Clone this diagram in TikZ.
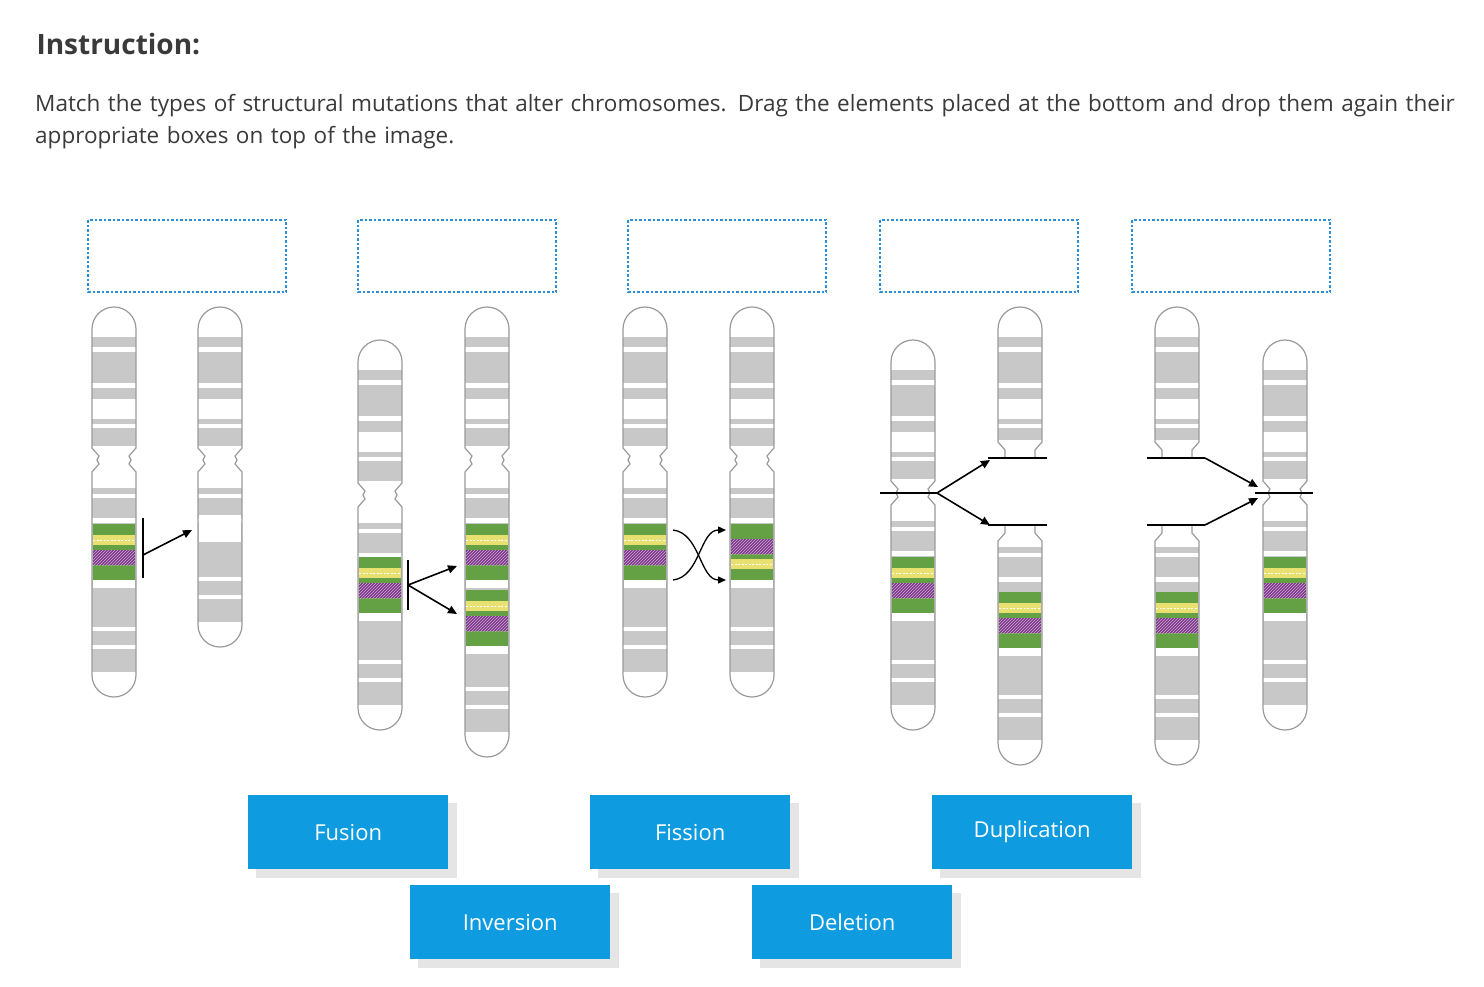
\documentclass[tikz,border=0pt]{standalone}
\usepackage{fontspec}
\setmainfont{Open Sans}
\usetikzlibrary{patterns,arrows.meta}
\definecolor{cgray}{HTML}{C8C8C8}
\definecolor{cline}{HTML}{9A9A9A}
\definecolor{cgreen}{HTML}{64A044}
\definecolor{cyel}{HTML}{E8E070}
\definecolor{cpur}{HTML}{7A3A8C}
\definecolor{cbox}{HTML}{2D8FD5}
\definecolor{cbtn}{HTML}{0E9BE0}
\definecolor{ctext}{HTML}{3A3A3A}
\tikzset{
 dropbox/.style={draw=cbox,dash pattern=on 2.5pt off 2pt,line width=1.3pt},
 btn/.style={fill=cbtn,text=white,minimum width=200pt,minimum height=74pt,inner sep=0pt,font=\fontsize{22}{26}\selectfont},
 btnshadow/.style={fill=black!10},
 arr/.style={line width=1.6pt,-{Triangle[length=9pt,width=8pt]}},
 bar/.style={line width=1.6pt},
}
% full chromosome outline
\newcommand\chrpath[4]{({#1-22},{#2+22}) arc(180:360:22) -- ({#1+22},{#3-12}) -- ({#1+15},{#3-4}) -- ({#1+17},{#3}) -- ({#1+15},{#3+4}) -- ({#1+22},{#3+12}) -- ({#1+22},{#4-22}) arc(0:180:22) -- ({#1-22},{#3+12}) -- ({#1-15},{#3+4}) -- ({#1-17},{#3}) -- ({#1-15},{#3-4}) -- ({#1-22},{#3-12}) -- cycle}
\newcommand\bands[4]{%
 \fill[cgray] ({#1-22},{#2+30}) rectangle ({#1+22},{#3-14});
 \fill[white] ({#1-22},{#2+40}) rectangle ({#1+22},{#2+45});
 \fill[white] ({#1-22},{#2+76}) rectangle ({#1+22},{#2+81});
 \fill[white] ({#1-22},{#2+92}) rectangle ({#1+22},{#2+112});
 \fill[white] ({#1-22},{#2+117}) rectangle ({#1+22},{#2+121});
 \fill[cgray] ({#1-22},{#3+28}) rectangle ({#1+22},{#4-25});
 \fill[white] ({#1-22},{#3+34}) rectangle ({#1+22},{#3+38});
 \fill[white] ({#1-22},{#3+58}) rectangle ({#1+22},{#3+63});
 \fill[white] ({#1-22},{#4-70}) rectangle ({#1+22},{#4-66});
 \fill[white] ({#1-22},{#4-52}) rectangle ({#1+22},{#4-48});}
\newcommand\chrom[4]{%
 \begin{scope}\clip \chrpath{#1}{#2}{#3}{#4};
 \fill[white] ({#1-30},{#2}) rectangle ({#1+30},{#4});
 \bands{#1}{#2}{#3}{#4}\end{scope}
 \draw[cline,line width=1.2pt] \chrpath{#1}{#2}{#3}{#4};}
% top piece: cx, top, cut
\newcommand\tpath[3]{({#1-22},{#2+22}) arc(180:360:22) -- ({#1+22},{#3-16}) -- ({#1+15},{#3-8}) -- ({#1+15},{#3}) -- ({#1-15},{#3}) -- ({#1-15},{#3-8}) -- ({#1-22},{#3-16}) -- cycle}
\newcommand\ctop[3]{%
 \begin{scope}\clip \tpath{#1}{#2}{#3};
 \fill[cgray] ({#1-22},{#2+30}) rectangle ({#1+22},{#3-18});
 \fill[white] ({#1-22},{#2+40}) rectangle ({#1+22},{#2+45});
 \fill[white] ({#1-22},{#2+76}) rectangle ({#1+22},{#2+81});
 \fill[white] ({#1-22},{#2+92}) rectangle ({#1+22},{#2+112});
 \fill[white] ({#1-22},{#2+117}) rectangle ({#1+22},{#2+121});
 \end{scope}
 \draw[cline,line width=1.2pt] ({#1-15},{#3}) -- ({#1-15},{#3-8}) -- ({#1-22},{#3-16}) -- ({#1-22},{#2+22}) arc(180:360:22) -- ({#1+22},{#3-16}) -- ({#1+15},{#3-8}) -- ({#1+15},{#3});}
\newcommand\bpath[3]{({#1-15},{#2}) -- ({#1+15},{#2}) -- ({#1+15},{#2+8}) -- ({#1+22},{#2+16}) -- ({#1+22},{#3-22}) arc(0:180:22) -- ({#1-22},{#2+16}) -- ({#1-15},{#2+8}) -- cycle}
\newcommand\cbot[3]{%
 \begin{scope}\clip \bpath{#1}{#2}{#3};
 \fill[cgray] ({#1-22},{#2+22}) rectangle ({#1+22},{#3-25});
 \fill[white] ({#1-22},{#2+28}) rectangle ({#1+22},{#2+32});
 \fill[white] ({#1-22},{#2+52}) rectangle ({#1+22},{#2+57});
 \fill[white] ({#1-22},{#3-70}) rectangle ({#1+22},{#3-66});
 \fill[white] ({#1-22},{#3-52}) rectangle ({#1+22},{#3-48});
 \end{scope}
 \draw[cline,line width=1.2pt] ({#1-15},{#2}) -- ({#1-15},{#2+8}) -- ({#1-22},{#2+16}) -- ({#1-22},{#3-22}) arc(180:0:22) -- ({#1+22},{#2+16}) -- ({#1+15},{#2+8}) -- ({#1+15},{#2});}
% coloured block (normal order) cx, y
\newcommand\yel[3]{\fill[cyel] ({#1-21},{#2}) rectangle ({#1+21},{#3});
 \draw[white,line width=0.6pt,dash pattern=on 2pt off 1.5pt] ({#1-21},{(#2+#3)/2}) -- ({#1+21},{(#2+#3)/2});}
\newcommand\pur[3]{\fill[cpur] ({#1-21},{#2}) rectangle ({#1+21},{#3});
 \fill[pattern=north east lines,pattern color=violet!35] ({#1-21},{#2}) rectangle ({#1+21},{#3});}
\newcommand\blk[2]{\fill[cgreen] ({#1-21},{#2}) rectangle ({#1+21},{#2+56});
 \fill[white] ({#1-21},{#2+56}) rectangle ({#1+21},{#2+64});
 \yel{#1}{#2+11}{#2+21}\pur{#1}{#2+26}{#2+41}}
\newcommand\blkinv[2]{\fill[cgreen] ({#1-21},{#2}) rectangle ({#1+21},{#2+56});
 \fill[white] ({#1-21},{#2+56}) rectangle ({#1+21},{#2+64});
 \pur{#1}{#2+15}{#2+30}\yel{#1}{#2+35}{#2+45}}
\begin{document}
\begin{tikzpicture}[x=1pt,y=-1pt]
\useasboundingbox[fill=white] (0,0) rectangle (1484,986);
\node[anchor=west,font=\fontsize{28}{32}\selectfont\bfseries,text=ctext] (title) at (33,44) {Instruction:};
\node[anchor=north west,text width=1420pt,align=left,font=\fontsize{22.5}{32}\selectfont,text=ctext,inner sep=0pt] (body) at (35,94) {Match the types of structural mutations that alter chromosomes. Drag the elements placed at the bottom and drop them again their appropriate boxes on top of the image.};
\foreach \x/\n in {88/d1,358/d2,628/d3,880/d4,1132/d5}
 \draw[dropbox] (\x,220) rectangle (\x+198,292);
% pair 1: deletion
\chrom{114}{307}{460}{697}\blk{114}{524}
\chrom{220}{307}{460}{647}
\fill[white] (199,515) rectangle (241,542);
\draw[bar] (143,518) -- (143,578);
\draw[arr] (143,555) -- (192,530);
% pair 2: duplication
\chrom{380}{340}{495}{730}\blk{380}{557}
\chrom{487}{307}{460}{757}\blk{487}{524}\blk{487}{590}
\draw[bar] (408,560) -- (408,610);
\draw[arr] (408,585) -- (457,566);
\draw[arr] (408,585) -- (457,614);
% pair 3: inversion
\chrom{645}{307}{460}{697}\blk{645}{524}
\chrom{752}{307}{460}{697}\blkinv{752}{524}
\draw[line width=1.3pt,-{Triangle[length=8pt,width=7pt]}] (673,530) .. controls (700,533) and (700,580) .. (726,580);
\draw[line width=1.3pt,-{Triangle[length=8pt,width=7pt]}] (673,580) .. controls (700,577) and (700,530) .. (726,530);
% pair 4: fission
\chrom{913}{340}{493}{730}\blk{913}{557}
\ctop{1020}{307}{458}
\cbot{1020}{525}{765}\blk{1020}{592}
\draw[bar] (880,493) -- (937,493);
\draw[arr] (937,493) -- (990,460);
\draw[arr] (937,493) -- (990,525);
\draw[bar] (988,458) -- (1047,458);
\draw[bar] (988,525) -- (1047,525);
% pair 5: fusion
\ctop{1177}{307}{458}
\cbot{1177}{525}{765}\blk{1177}{592}
\chrom{1285}{340}{493}{730}\blk{1285}{557}
\draw[bar] (1147,458) -- (1205,458);
\draw[arr] (1205,458) -- (1258,487);
\draw[bar] (1147,525) -- (1205,525);
\draw[arr] (1205,525) -- (1258,498);
\draw[bar] (1255,493) -- (1313,493);
% buttons
\foreach \x/\y/\t/\n in {248/795/Fusion/b1,590/795/Fission/b2,932/795/Duplication/b3,410/885/Inversion/b4,752/885/Deletion/b5}{
 \fill[btnshadow] (\x+8,\y+8) rectangle (\x+209,\y+83);
 \node[btn,anchor=north west] (\n) at (\x,\y) {\t};}
\end{tikzpicture}
\end{document}
